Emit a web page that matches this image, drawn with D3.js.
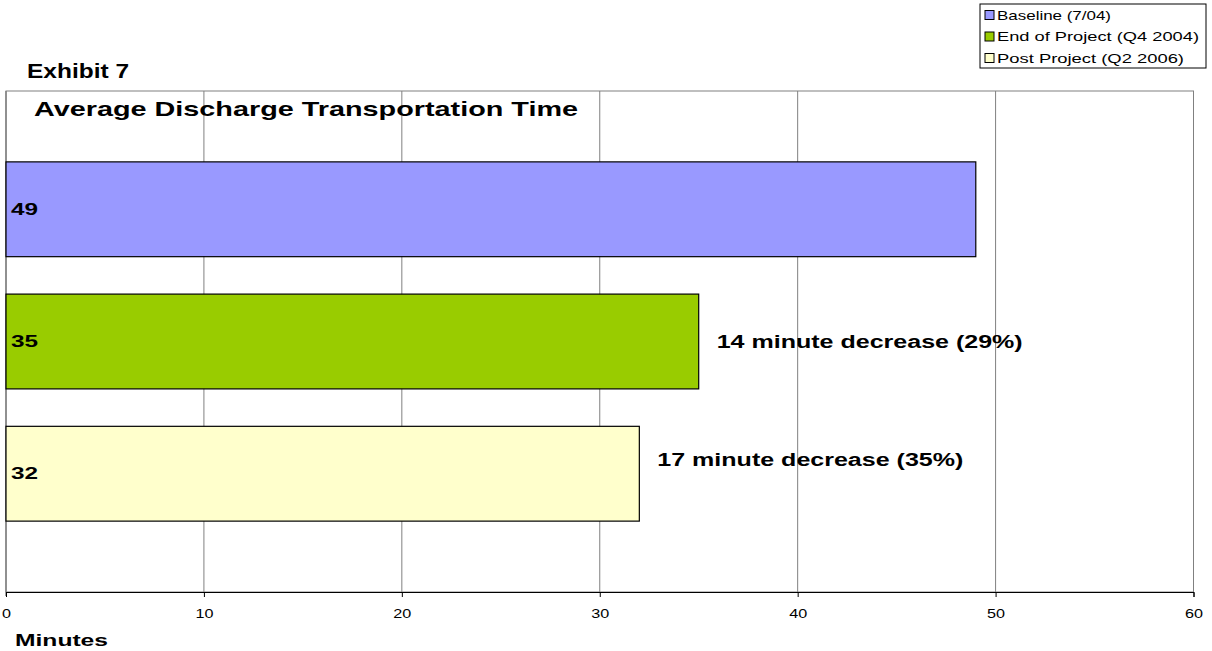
<!DOCTYPE html>
<html>
<head>
<meta charset="utf-8">
<script src="https://cdn.jsdelivr.net/npm/d3@7"></script>
<style>
  html, body { margin: 0; padding: 0; background: #fff; }
  svg { display: block; font-family: Arial, "Liberation Sans", sans-serif; }
</style>
</head>
<body>
<svg id="chart" width="1212" height="651"></svg>
<script>
// Series (one bar each) and their values in minutes
const seriesNames = ["Baseline (7/04)", "End of Project (Q4 2004)", "Post Project (Q2 2006)"];
const seriesValues = [49, 35, 32];
const seriesColors = ["#9999FF", "#99CC00", "#FFFFCC"];
const tickValues = [0, 10, 20, 30, 40, 50, 60];
const annotations = ["", "14 minute decrease (29%)", "17 minute decrease (35%)"];

const svg = d3.select("#chart");
const plot = { left: 6, right: 1193.5, top: 91, bottom: 592 };

const x = d3.scaleLinear().domain([0, 60]).range([plot.left, plot.right]);
const y = d3.scaleBand()
  .domain(seriesNames)
  .range([plot.top, plot.bottom])
  .paddingInner(0.283)
  .paddingOuter(0.536);

// Text in this layout is drawn wide; stretch glyphs to the given width
function stretch(sel, width) {
  sel.attr("textLength", width).attr("lengthAdjust", "spacingAndGlyphs");
  return sel;
}

// Plot area frame
svg.append("rect")
  .attr("x", plot.left).attr("y", plot.top)
  .attr("width", plot.right - plot.left).attr("height", plot.bottom - plot.top)
  .attr("fill", "#fff").attr("stroke", "#808080").attr("stroke-width", 1);

// Vertical gridlines
svg.append("g").selectAll("line")
  .data(tickValues.slice(1))
  .join("line")
  .attr("x1", d => x(d)).attr("x2", d => x(d))
  .attr("y1", plot.top).attr("y2", plot.bottom)
  .attr("stroke", "#808080").attr("stroke-width", 1);

// Left axis line
svg.append("line")
  .attr("x1", plot.left).attr("x2", plot.left)
  .attr("y1", plot.top).attr("y2", plot.bottom + 4)
  .attr("stroke", "#808080").attr("stroke-width", 1.5);

// Bars
svg.append("g").selectAll("rect")
  .data(seriesNames)
  .join("rect")
  .attr("x", x(0))
  .attr("y", d => y(d))
  .attr("width", (d, i) => x(seriesValues[i]) - x(0))
  .attr("height", y.bandwidth())
  .attr("fill", (d, i) => seriesColors[i])
  .attr("stroke", "#000").attr("stroke-width", 1.2);

// Value labels inside the bars
svg.append("g").selectAll("text")
  .data(seriesNames)
  .join("text")
  .attr("x", x(0) + 5)
  .attr("y", d => y(d) + y.bandwidth() / 2)
  .attr("dy", "0.36em")
  .attr("font-size", 16).attr("font-weight", "bold")
  .text((d, i) => seriesValues[i])
  .call(stretch, 27);

// Decrease notes, placed just past the end of each bar
const noteShift = [0, 0, -14];
svg.append("g").selectAll("text")
  .data(seriesNames.map((d, i) => i).filter(i => annotations[i]))
  .join("text")
  .attr("x", i => x(seriesValues[i]) + 18)
  .attr("y", i => y(seriesNames[i]) + y.bandwidth() / 2 + noteShift[i])
  .attr("dy", "0.36em")
  .attr("font-size", 18).attr("font-weight", "bold")
  .text(i => annotations[i])
  .call(stretch, 306);

// Bottom axis
const xAxis = d3.axisBottom(x).tickValues(tickValues).tickSize(5).tickPadding(12);
const gx = svg.append("g")
  .attr("transform", `translate(0,${plot.bottom})`)
  .call(xAxis);
gx.select(".domain").attr("stroke", "#000").attr("stroke-width", 1);
gx.selectAll(".tick line").attr("stroke", "#000");
gx.selectAll(".tick text").attr("font-size", 13).attr("fill", "#000")
  .attr("font-family", "Arial, 'Liberation Sans', sans-serif")
  .each(function (d) {
    d3.select(this).call(stretch, String(d).length * 9);
  });

// Titles
svg.append("text").attr("x", 27).attr("y", 78)
  .attr("font-size", 20).attr("font-weight", "bold").text("Exhibit 7")
  .call(stretch, 102);
svg.append("text").attr("x", 34).attr("y", 116)
  .attr("font-size", 21).attr("font-weight", "bold").text("Average Discharge Transportation Time")
  .call(stretch, 544);
svg.append("text").attr("x", 15).attr("y", 646)
  .attr("font-size", 17).attr("font-weight", "bold").text("Minutes")
  .call(stretch, 93);

// Legend
const legendWidths = [114, 202, 187];
const legend = svg.append("g").attr("transform", "translate(980,4)");
legend.append("rect")
  .attr("x", 0).attr("y", 0).attr("width", 226).attr("height", 64)
  .attr("fill", "#fff").attr("stroke", "#000").attr("stroke-width", 1);
const items = legend.selectAll("g.item")
  .data(seriesNames)
  .join("g").attr("class", "item")
  .attr("transform", (d, i) => `translate(5,${11 + i * 21.5})`);
items.append("rect")
  .attr("x", 0).attr("y", -4.5).attr("width", 9).attr("height", 9)
  .attr("fill", (d, i) => seriesColors[i]).attr("stroke", "#000").attr("stroke-width", 1);
items.append("text")
  .attr("x", 12).attr("y", 0).attr("dy", "0.36em")
  .attr("font-size", 13).text(d => d)
  .each(function (d, i) { d3.select(this).call(stretch, legendWidths[i]); });
</script>
</body>
</html>
